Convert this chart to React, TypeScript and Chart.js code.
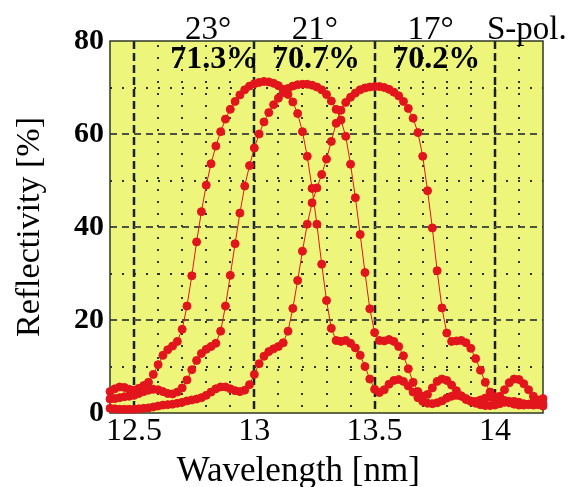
import React, { useEffect, useRef } from 'react';
import { Chart, registerables } from 'chart.js';

Chart.register(...registerables);

// Wavelength samples [nm]
const WAVELENGTH = [
  12.40, 12.42, 12.44, 12.46, 12.48, 12.50, 12.52, 12.54, 12.56, 12.58,
  12.60, 12.62, 12.64, 12.66, 12.68, 12.70, 12.72, 12.74, 12.76, 12.78,
  12.80, 12.82, 12.84, 12.86, 12.88, 12.90, 12.92, 12.94, 12.96, 12.98,
  13.00, 13.02, 13.04, 13.06, 13.08, 13.10, 13.12, 13.14, 13.16, 13.18,
  13.20, 13.22, 13.24, 13.26, 13.28, 13.30, 13.32, 13.34, 13.36, 13.38,
  13.40, 13.42, 13.44, 13.46, 13.48, 13.50, 13.52, 13.54, 13.56, 13.58,
  13.60, 13.62, 13.64, 13.66, 13.68, 13.70, 13.72, 13.74, 13.76, 13.78,
  13.80, 13.82, 13.84, 13.86, 13.88, 13.90, 13.92, 13.94, 13.96, 13.98,
  14.00, 14.02, 14.04, 14.06, 14.08, 14.10, 14.12, 14.14, 14.16, 14.18,
  14.20,
];

// Reflectivity [%] at 23 deg incidence
const R23 = [
  4.6, 5.2, 5.6, 5.5, 5.1, 4.9, 5.3, 5.9, 6.6, 8.3,
  10.4, 12.4, 13.6, 14.4, 15.4, 18.0, 23.0, 29.5, 36.8, 43.3,
  49.0, 53.6, 57.4, 60.5, 63.2, 65.3, 67.0, 68.4, 69.5, 70.3,
  70.8, 71.1, 71.3, 71.2, 70.9, 70.4, 69.6, 68.5, 66.9, 64.4,
  60.5, 55.2, 48.3, 40.6, 32.0, 24.2, 18.2, 15.6, 15.4, 15.6,
  15.0, 14.0, 12.4, 10.0, 7.3, 5.1, 4.4, 5.0, 6.2, 7.0,
  7.2, 6.8, 5.8, 4.5, 3.3, 2.5, 2.1, 2.0, 2.2, 2.6,
  3.2, 3.6, 3.8, 3.6, 3.1, 2.6, 2.1, 1.8, 1.6, 1.6,
  1.7, 2.0, 2.3, 2.5, 2.5, 2.3, 2.0, 1.8, 1.7, 1.8,
  2.0,
];

// Reflectivity [%] at 21 deg incidence
const R21 = [
  3.0, 3.1, 3.3, 3.5, 3.6, 3.8, 4.2, 4.6, 4.9, 5.1,
  5.0, 4.6, 4.2, 4.1, 4.5, 5.4, 7.1, 9.3, 11.3, 12.8,
  13.7, 14.3, 15.0, 17.6, 23.0, 29.6, 36.4, 43.0, 48.8, 53.2,
  57.0, 60.0, 62.6, 64.6, 66.3, 67.7, 68.9, 69.8, 70.3, 70.6,
  70.7, 70.7, 70.5, 70.1, 69.5, 68.5, 67.1, 65.3, 63.0, 59.5,
  53.5, 46.3, 38.4, 30.2, 22.4, 17.3, 15.6, 15.5, 15.8, 15.4,
  14.3, 12.3, 9.5, 6.6, 4.6, 3.6, 4.0, 5.4, 6.8, 7.3,
  7.0, 6.0, 4.8, 3.7, 2.9, 2.5, 2.5, 2.8, 3.2, 3.5,
  3.5, 3.2, 2.7, 2.2, 1.9, 1.7, 1.7, 1.9, 2.3, 2.8,
  3.1,
];

// Reflectivity [%] at 17 deg incidence
const R17 = [
  1.0, 0.9, 0.8, 0.8, 0.8, 0.8, 0.9, 1.0, 1.1, 1.3,
  1.5, 1.7, 1.8, 1.9, 2.1, 2.3, 2.6, 2.8, 3.0, 3.3,
  3.8, 4.5, 5.2, 5.6, 5.6, 5.2, 4.8, 4.6, 4.9, 6.1,
  8.3, 10.6, 12.2, 13.2, 13.8, 14.3, 15.1, 17.6, 22.5, 28.5,
  34.8, 40.6, 45.2, 48.4, 51.3, 54.6, 58.4, 62.3, 65.1, 66.8,
  67.9, 68.8, 69.5, 69.9, 70.1, 70.2, 70.2, 70.0, 69.6, 69.0,
  68.2, 67.0, 65.5, 63.4, 60.3, 55.2, 47.8, 39.8, 30.6, 22.6,
  17.2, 15.4, 15.5, 15.6, 15.1, 13.9, 11.7, 9.2, 6.6, 4.5,
  3.1, 3.6, 5.0, 6.5, 7.3, 7.2, 6.3, 5.0, 3.6, 2.3,
  1.5,
];

const SERIES = [R23, R21, R17];

// Text annotations
const ANGLE_LABELS = ['23°', '21°', '17°', 'S-pol.'];
const ANGLE_LABEL_X = [12.808, 13.252, 13.733, 14.133];
const PEAK_LABELS = ['71.3%', '70.7%', '70.2%'];
const PEAK_LABEL_X = [12.833, 13.256, 13.756];
const X_TITLE = 'Wavelength [nm]';
const X_TITLE_AT = 13.183;
const Y_TITLE = 'Reflectivity [%]';

const X_MIN = 12.4;
const X_MAX = 14.2;
const Y_MIN = 0;
const Y_MAX = 80;

const SERIF = '"Liberation Serif", "Times New Roman", serif';
const RED = '#e3151c';
const BG = '#edf57a';
const FRAME = '#2f3727';

const isMajorX = (v: number) => Math.abs(v * 2 - Math.round(v * 2)) < 1e-6;
const isMajorY = (v: number) => Math.abs(v / 20 - Math.round(v / 20)) < 1e-6;

const framePlugin = {
  id: 'framePlugin',
  beforeDraw(chart: any) {
    const { ctx, chartArea: a } = chart;
    ctx.save();
    ctx.fillStyle = BG;
    ctx.fillRect(a.left, a.top, a.right - a.left, a.bottom - a.top);
    ctx.restore();
  },
  beforeDatasetsDraw(chart: any) {
    const { ctx, chartArea: a } = chart;
    const xs = chart.scales.x;
    const ys = chart.scales.y;
    ctx.save();
    // vertical grid lines
    xs.ticks.forEach((t: any) => {
      const px = Math.round(xs.getPixelForValue(t.value));
      if (px <= a.left + 1 || px >= a.right - 1) return;
      const major = isMajorX(t.value);
      ctx.beginPath();
      ctx.strokeStyle = major ? '#1c2118' : '#2e3428';
      ctx.lineWidth = major ? 2.5 : 2;
      ctx.setLineDash(major ? [8, 4] : [2, 10]);
      ctx.lineDashOffset = major ? 0 : -4;
      ctx.moveTo(px, a.top);
      ctx.lineTo(px, a.bottom);
      ctx.stroke();
    });
    // horizontal grid lines
    ys.ticks.forEach((t: any) => {
      const py = Math.round(ys.getPixelForValue(t.value));
      if (py <= a.top + 1 || py >= a.bottom - 1) return;
      const major = isMajorY(t.value);
      ctx.beginPath();
      ctx.strokeStyle = major ? '#4a5440' : '#2e3428';
      ctx.lineWidth = 2;
      ctx.setLineDash(major ? [7, 5] : [2, 10]);
      ctx.lineDashOffset = 0;
      ctx.moveTo(a.left, py);
      ctx.lineTo(a.right, py);
      ctx.stroke();
    });
    ctx.setLineDash([]);
    ctx.strokeStyle = FRAME;
    ctx.lineWidth = 1.5;
    ctx.strokeRect(a.left, a.top, a.right - a.left, a.bottom - a.top);
    ctx.restore();
  },
  afterDraw(chart: any) {
    const { ctx } = chart;
    const xs = chart.scales.x;
    const ys = chart.scales.y;
    ctx.save();
    ctx.fillStyle = '#000';
    ctx.textAlign = 'center';
    ctx.textBaseline = 'alphabetic';
    ctx.font = `33px ${SERIF}`;
    ANGLE_LABELS.forEach((t, i) => {
      ctx.fillText(t, xs.getPixelForValue(ANGLE_LABEL_X[i]), ys.getPixelForValue(80.4));
    });
    ctx.font = `bold 32px ${SERIF}`;
    PEAK_LABELS.forEach((t, i) => {
      ctx.fillText(t, xs.getPixelForValue(PEAK_LABEL_X[i]), ys.getPixelForValue(74.3));
    });
    ctx.font = `35px ${SERIF}`;
    ctx.fillText(X_TITLE, xs.getPixelForValue(X_TITLE_AT), chart.height - 6);
    ctx.restore();
  },
};

export default function App() {
  const ref = useRef<HTMLCanvasElement | null>(null);

  useEffect(() => {
    if (!ref.current) return;
    const datasets = SERIES.map((s) => ({
      data: WAVELENGTH.map((x, i) => ({ x, y: s[i] })),
      borderColor: RED,
      borderWidth: 1,
      backgroundColor: RED,
      pointRadius: 4,
      pointBorderWidth: 1,
      pointBackgroundColor: RED,
      pointBorderColor: RED,
      pointHoverRadius: 4,
      tension: 0,
      clip: false as any,
    }));

    const chart = new Chart(ref.current, {
      type: 'line',
      data: { datasets },
      options: {
        animation: false,
        responsive: false,
        maintainAspectRatio: false,
        layout: { padding: { top: 41, right: 33, left: 0, bottom: 0 } },
        plugins: {
          legend: { display: false },
          tooltip: { enabled: false },
        },
        scales: {
          x: {
            type: 'linear',
            min: X_MIN,
            max: X_MAX,
            afterFit: (scale: any) => {
              scale.height = 74;
            },
            border: { display: false },
            grid: { display: false, drawTicks: false },
            ticks: {
              stepSize: 0.1,
              autoSkip: false,
              maxRotation: 0,
              padding: 3,
              color: '#000',
              font: { family: SERIF, size: 32, lineHeight: 1 },
              callback: (v: any) => (isMajorX(Number(v)) ? String(Number(Number(v).toFixed(1))) : ''),
            },
          },
          y: {
            type: 'linear',
            min: Y_MIN,
            max: Y_MAX,
            afterFit: (scale: any) => {
              scale.width = 110;
            },
            border: { display: false },
            grid: { display: false, drawTicks: false },
            ticks: {
              stepSize: 10,
              autoSkip: false,
              padding: 6,
              color: '#000',
              font: { family: SERIF, size: 30, weight: 'bold', lineHeight: 1 },
              callback: (v: any) => (isMajorY(Number(v)) ? String(v) : ''),
            },
            title: {
              display: true,
              text: Y_TITLE,
              color: '#000',
              font: { family: SERIF, size: 34, lineHeight: 1 },
              padding: { top: 13, bottom: 0 },
            },
          },
        },
      },
      plugins: [framePlugin],
    } as any);

    return () => chart.destroy();
  }, []);

  return (
    <div style={{ position: 'fixed', left: 0, top: 0, width: 576, height: 487, background: '#fff' }}>
      <canvas ref={ref} width={576} height={487} style={{ display: 'block' }} />
    </div>
  );
}
